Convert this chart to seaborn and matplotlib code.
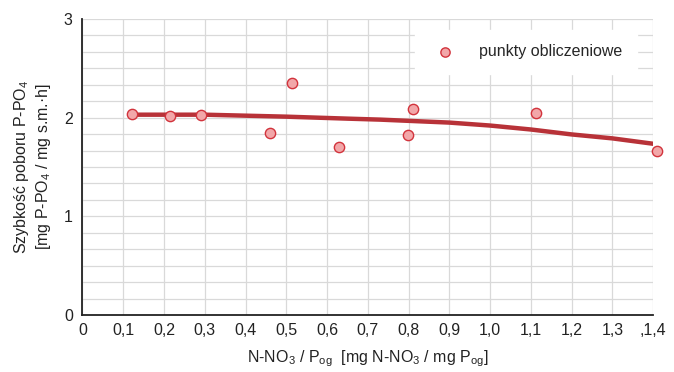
import seaborn as sns
import pandas as pd
import matplotlib.pyplot as plt
import numpy as np

# measured points
pts_x = [0.122, 0.215, 0.291, 0.46, 0.513, 0.629, 0.799, 0.812, 1.112, 1.41]
pts_y = [2.04, 2.02, 2.03, 1.84, 2.35, 1.70, 1.82, 2.087, 2.05, 1.66]

# trend curve
curve_x = [0.12, 0.3, 0.5, 0.65, 0.73, 0.9, 1.0, 1.1, 1.2, 1.3, 1.41]
curve_y = [2.03, 2.03, 2.01, 1.99, 1.98, 1.95, 1.92, 1.88, 1.83, 1.79, 1.73]

x_ticks = [0, 0.1, 0.2, 0.3, 0.4, 0.5, 0.6, 0.7, 0.8, 0.9, 1.0, 1.1, 1.2, 1.3, 1.4]
x_labels = ["0", "0,1", "0,2", "0,3", "0,4", "0,5", "0,6", "0,7", "0,8", "0,9",
            "1,0", "1,1", "1,2", "1,3", ",1,4"]
y_ticks = [0, 1, 2, 3]

sns.set_style("white")
plt.rcParams['font.family'] = ['Liberation Sans', 'DejaVu Sans']
plt.rcParams['mathtext.fontset'] = 'custom'
plt.rcParams['mathtext.rm'] = 'Liberation Sans'
plt.rcParams['mathtext.it'] = 'Liberation Sans'

pts = pd.DataFrame({"x": pts_x, "y": pts_y})
curve = pd.DataFrame({"x": curve_x, "y": curve_y})

fig = plt.figure(figsize=(6.74, 3.72), dpi=100)
ax = fig.add_axes([0.1224, 0.1532, 0.969 - 0.1224, 0.949 - 0.1532])

sns.lineplot(data=curve, x="x", y="y", color="#b83238", linewidth=3.2, ax=ax, zorder=3)
sns.scatterplot(data=pts, x="x", y="y", s=55, color="#f2a7a9", edgecolor="#d2333c",
                linewidth=1.0, ax=ax, zorder=4, clip_on=False, label="punkty obliczeniowe")

ax.set_xlim(0, 1.4)
ax.set_ylim(0, 3)
ax.set_xticks(x_ticks)
ax.set_xticklabels(x_labels)
ax.set_yticks(y_ticks)
ax.set_yticks(np.arange(0, 3.001, 1 / 6), minor=True)
ax.grid(True, which="both", color="#d9d9d9", linewidth=0.9)
ax.set_axisbelow(True)

for s in ["top", "right"]:
    ax.spines[s].set_visible(False)
for s in ["left", "bottom"]:
    ax.spines[s].set_color("#222222")
    ax.spines[s].set_linewidth(1.3)
ax.tick_params(which="major", direction="inout", length=8, width=1.2, colors="#222222",
               labelsize=11.5, pad=3)
ax.tick_params(which="minor", length=0)
ax.tick_params(axis="x", pad=2)

ax.set_xlabel("N-NO$_3$ / P$_{og}$  [mg N-NO$_3$ / mg P$_{og}$]", fontsize=11.5, color="#222222", labelpad=7)
ax.set_ylabel("Szybkość poboru P-PO$_4$\n[mg P-PO$_4$ / mg s.m.·h]", fontsize=11.5, color="#222222",
              labelpad=8, linespacing=1.2)

leg = ax.legend(loc="upper right", bbox_to_anchor=(0.985, 0.99), frameon=True, fontsize=11.5,
                handletextpad=1.1, borderpad=0.9, markerscale=0.9)
leg.get_frame().set_edgecolor("white")
leg.get_frame().set_facecolor("white")
leg.get_frame().set_alpha(1)

fig.savefig("out.png", dpi=100)
